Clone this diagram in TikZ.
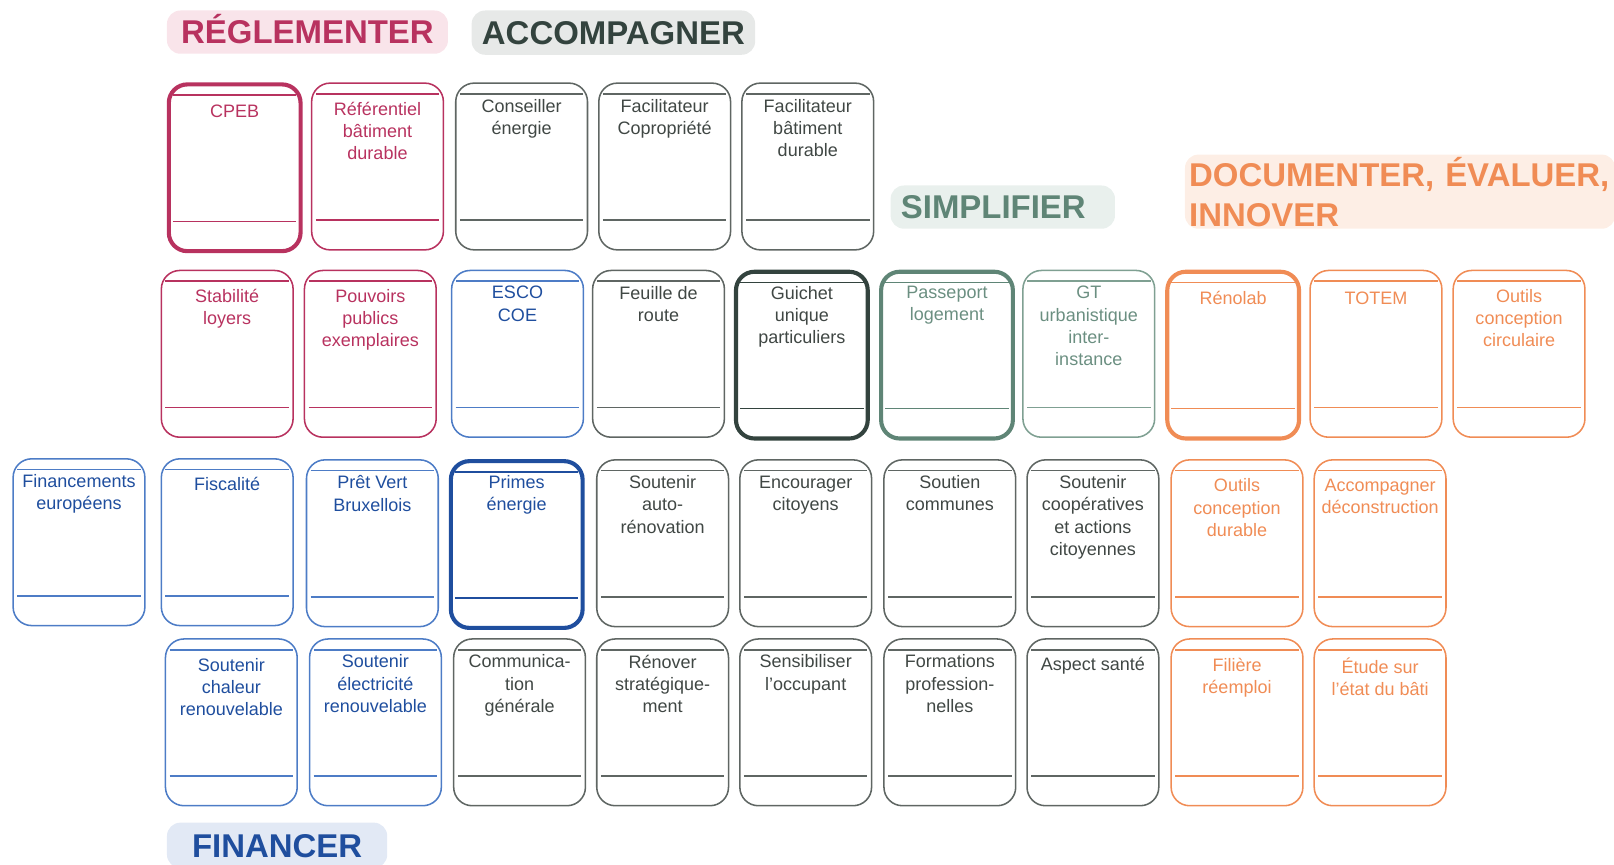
\documentclass[tikz,border=0pt]{standalone}
\usepackage{fontspec}
\setmainfont{Liberation Sans}
\usepackage{tikz}

\definecolor{crim}{HTML}{B8325F}
\definecolor{crimfill}{HTML}{F9E4EA}
\definecolor{slate}{HTML}{33433E}
\definecolor{slatefill}{HTML}{E7E9E8}
\definecolor{greyline}{HTML}{5F6663}
\definecolor{greytext}{HTML}{404744}
\definecolor{sage}{HTML}{5F8576}
\definecolor{sageline}{HTML}{7FA092}
\definecolor{sagetext}{HTML}{6B8F81}
\definecolor{sagefill}{HTML}{E9F0ED}
\definecolor{apricot}{HTML}{F08C55}
\definecolor{apricotfill}{HTML}{FDEEE5}
\definecolor{navy}{HTML}{1F4E9E}
\definecolor{navyline}{HTML}{4D7CC6}
\definecolor{navyfill}{HTML}{E2E9F5}

\tikzset{
  card/.style={draw=#1, rounded corners=18pt, line width=1.5pt, anchor=north west,
    minimum width=128pt, minimum height=162pt, inner sep=0pt,
    path picture={\draw[#1, line width=1.5pt]
      ([xshift=4pt,yshift=-10.5pt]path picture bounding box.north west) --
      ([xshift=-4pt,yshift=-10.5pt]path picture bounding box.north east)
      ([xshift=4pt,yshift=29pt]path picture bounding box.south west) --
      ([xshift=-4pt,yshift=29pt]path picture bounding box.south east);}},
  key/.style={line width=4pt},
  cardtext/.style={text=#1, anchor=north, inner sep=0pt, yshift=-16pt, align=center,
    font=\fontsize{17.5}{21.5}\selectfont, execute at begin node=\strut},
  low/.style={yshift=-3pt},
  pill/.style={fill=#1, rounded corners=13pt, anchor=north west, inner xsep=10pt,
    inner ysep=0pt, font=\fontsize{32}{39}\selectfont\bfseries}
}

\begin{document}
\begin{tikzpicture}[x=1pt, y=-1pt]

%\draw[help lines, step=20pt] (0,0) grid (1568,840);
\useasboundingbox (0,0) rectangle (1568,840);

% headings
\node[pill=crimfill, text=crim, minimum width=273pt, minimum height=42pt,
      text height=23pt, text depth=0pt] (reglementer) at (162,10) {RÉGLEMENTER};
\node[pill=slatefill, text=slate, minimum width=274pt, minimum height=43pt,
      text height=23pt, text depth=0pt] (accompagner) at (458,10) {ACCOMPAGNER};
\node[pill=sagefill, text=sage, text width=198pt, align=left, minimum height=42pt,
      text height=23pt, text depth=0pt] (simplifier) at (865,180) {SIMPLIFIER};
\node[pill=apricotfill, text=apricot, inner xsep=4pt, text width=410pt, align=left,
      minimum height=72pt] (documenter) at (1151,150) {DOCUMENTER, ÉVALUER,\\INNOVER};
\node[pill=navyfill, text=navy, minimum width=214pt, minimum height=44pt,
      text height=23pt, text depth=0pt] (financer) at (162,799) {FINANCER};

% row 1
\node[card=crim, key, label={[cardtext=crim, low]north:CPEB}] (cpeb) at (162,80) {};
\node[card=crim, label={[cardtext=crim, low]north:Référentiel\\bâtiment\\durable}] (referentiel) at (302,80) {};
\node[card=greyline, label={[cardtext=greytext]north:Conseiller\\énergie}] (conseiller) at (442,80) {};
\node[card=greyline, label={[cardtext=greytext]north:Facilitateur\\Copropriété}] (copropriete) at (581,80) {};
\node[card=greyline, label={[cardtext=greytext]north:Facilitateur\\bâtiment\\durable}] (facilitateur) at (720,80) {};

% row 2
\node[card=crim, label={[cardtext=crim, low]north:Stabilité\\loyers}] (stabilite) at (156,262) {};
\node[card=crim, label={[cardtext=crim, low]north:Pouvoirs\\publics\\exemplaires}] (pouvoirs) at (295,262) {};
\node[card=navyline, label={[cardtext=navy]north:ESCO\\COE}] (esco) at (438,262) {};
\node[card=greyline, label={[cardtext=greytext]north:Feuille de\\route}] (feuille) at (575,262) {};
\node[card=slate, key, label={[cardtext=greytext]north:Guichet\\unique\\particuliers}] (guichet) at (713,262) {};
\node[card=sage, key, label={[cardtext=sagetext]north:Passeport\\logement}] (passeport) at (854,262) {};
\node[card=sageline, label={[cardtext=sagetext]north:GT\\urbanistique\\inter-\\instance}] (urbanistique) at (993,262) {};
\node[card=apricot, key, label={[cardtext=apricot, low]north:Rénolab}] (renolab) at (1132,262) {};
\node[card=apricot, label={[cardtext=apricot, low]north:TOTEM}] (totem) at (1272,262) {};
\node[card=apricot, label={[cardtext=apricot, low]north:Outils\\conception\\circulaire}] (circulaire) at (1411,262) {};

% row 3
\node[card=navyline, label={[cardtext=navy]north:Financements\\européens}] (europeens) at (12,445) {};
\node[card=navyline, label={[cardtext=navy]north:Fiscalité}] (fiscalite) at (156,445) {};
\node[card=navyline, label={[cardtext=navy]north:Prêt Vert\\Bruxellois}] (pretvert) at (297,446) {};
\node[card=navy, key, label={[cardtext=navy]north:Primes\\énergie}] (primes) at (436,446) {};
\node[card=greyline, label={[cardtext=greytext]north:Soutenir\\auto-\\rénovation}] (autorenovation) at (579,446) {};
\node[card=greyline, label={[cardtext=greytext]north:Encourager\\citoyens}] (citoyens) at (718,446) {};
\node[card=greyline, label={[cardtext=greytext]north:Soutien\\communes}] (communes) at (858,446) {};
\node[card=greyline, label={[cardtext=greytext]north:Soutenir\\coopératives\\et actions\\citoyennes}] (cooperatives) at (997,446) {};
\node[card=apricot, label={[cardtext=apricot, low]north:Outils\\conception\\durable}] (durable) at (1137,446) {};
\node[card=apricot, label={[cardtext=apricot, low]north:Accompagner\\déconstruction}] (deconstruction) at (1276,446) {};

% row 4
\node[card=navyline, label={[cardtext=navy, low]north:Soutenir\\chaleur\\renouvelable}] (chaleur) at (160,620) {};
\node[card=navyline, label={[cardtext=navy]north:Soutenir\\électricité\\renouvelable}] (electricite) at (300,620) {};
\node[card=greyline, label={[cardtext=greytext]north:Communica-\\tion\\générale}] (communication) at (440,620) {};
\node[card=greyline, label={[cardtext=greytext]north:Rénover\\stratégique-\\ment}] (strategique) at (579,620) {};
\node[card=greyline, label={[cardtext=greytext]north:Sensibiliser\\l’occupant}] (sensibiliser) at (718,620) {};
\node[card=greyline, label={[cardtext=greytext]north:Formations\\profession-\\nelles}] (formations) at (858,620) {};
\node[card=greyline, label={[cardtext=greytext]north:Aspect santé}] (sante) at (997,620) {};
\node[card=apricot, label={[cardtext=apricot, low]north:Filière\\réemploi}] (reemploi) at (1137,620) {};
\node[card=apricot, label={[cardtext=apricot, low]north:Étude sur\\l’état du bâti}] (etude) at (1276,620) {};

\end{tikzpicture}
\end{document}
